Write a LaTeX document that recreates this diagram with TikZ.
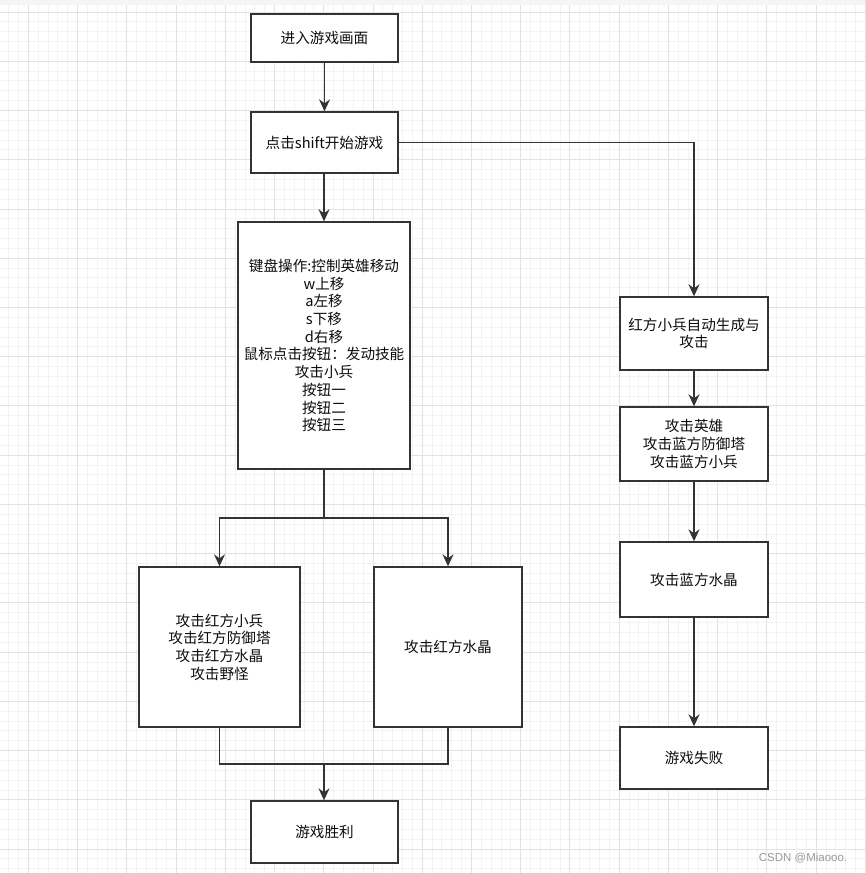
\documentclass[tikz,border=0pt]{standalone}
\usepackage{fontspec}
\setmainfont{Noto Sans CJK SC}
\usetikzlibrary{arrows.meta}
\definecolor{minorgrid}{HTML}{F3F3F3}
\definecolor{majorgrid}{HTML}{E2E2E2}
\definecolor{edge}{HTML}{333333}
\definecolor{wm}{HTML}{9A9A9A}
\begin{document}
\begin{tikzpicture}[x=1pt,y=-1pt,
  box/.style={draw=edge,line width=1.4pt,fill=white,rectangle,align=center,
    inner sep=2pt,font=\fontsize{14.6}{17.7}\selectfont,text=black!95},
  conn/.style={draw=edge,line width=1.4pt},
  arr/.style={conn,-{Stealth[length=12pt,width=11pt,inset=4pt]}}]
\useasboundingbox (0,0) rectangle (865,873);
\fill[white] (0,0) rectangle (865,873);
% grid
\foreach \i in {-2,...,85}{\draw[minorgrid,line width=0.9pt] ({28.3+9.848*\i},0) -- ({28.3+9.848*\i},873);}
\foreach \i in {-1,...,87}{\draw[minorgrid,line width=0.9pt] (0,{12+9.848*\i}) -- (865,{12+9.848*\i});}
\foreach \i in {0,...,17}{\draw[majorgrid,line width=0.9pt] ({28.3+49.24*\i},0) -- ({28.3+49.24*\i},873);}
\foreach \i in {0,...,17}{\draw[majorgrid,line width=0.9pt] (0,{12+49.24*\i}) -- (865,{12+49.24*\i});}
\fill[black!4] (0,0) rectangle (865,5);
% nodes
\node[box,minimum width=147pt,minimum height=48pt] (n1) at (324.5,38) {进入游戏画面};
\node[box,minimum width=147pt,minimum height=61pt] (n2) at (324.5,142.5) {点击shift开始游戏};
\node[box,minimum width=172pt,minimum height=247pt] (n3) at (324,345.5) {键盘操作:控制英雄移动\\w上移\\a左移\\s下移\\d右移\\鼠标点击按钮：发动技能\\攻击小兵\\按钮一\\按钮二\\按钮三};
\node[box,minimum width=161pt,minimum height=160pt] (n4) at (219.5,647) {攻击红方小兵\\攻击红方防御塔\\攻击红方水晶\\攻击野怪};
\node[box,minimum width=148pt,minimum height=160pt] (n5) at (448,647) {攻击红方水晶};
\node[box,minimum width=147pt,minimum height=62pt] (n6) at (324.5,832) {游戏胜利};
\node[box,minimum width=148pt,minimum height=73pt] (n7) at (694,333.5) {红方小兵自动生成与\\攻击};
\node[box,minimum width=148pt,minimum height=74pt] (n8) at (694,444) {攻击英雄\\攻击蓝方防御塔\\攻击蓝方小兵};
\node[box,minimum width=148pt,minimum height=75pt] (n9) at (694,579.5) {攻击蓝方水晶};
\node[box,minimum width=148pt,minimum height=62pt] (n10) at (694,758) {游戏失败};
\node[text=wm,font=\fontsize{11.5}{14}\selectfont\fontspec{Liberation Sans}] (wmk) at (803,858) {CSDN @Miaooo.};
% connectors
\coordinate (j) at (324,518);
\coordinate (m) at (324,764);
\draw[arr] (n1) -- (n2);
\draw[arr] (n2.south -| n3.north) -- (n3.north);
\draw[arr] (n2.east) -| (n7.north);
\draw[conn] (n3.south) -- (j);
\draw[arr] (j) -| (n4.north);
\draw[arr] (j) -| (n5.north);
\draw[conn] (n4.south) |- (m);
\draw[conn] (n5.south) |- (m);
\draw[arr] (m) -- (m |- n6.north);
\draw[arr] (n7) -- (n8);
\draw[arr] (n8) -- (n9);
\draw[arr] (n9) -- (n10);
\end{tikzpicture}
\end{document}
